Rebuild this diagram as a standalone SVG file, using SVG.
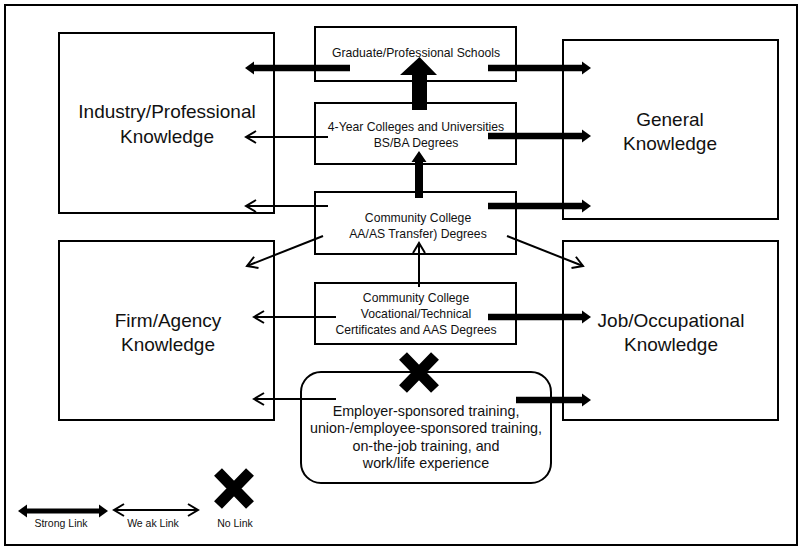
<svg xmlns="http://www.w3.org/2000/svg" width="801" height="550" viewBox="0 0 801 550">
<style>
.box{fill:#fff;stroke:#000;stroke-width:2}
.big{font-family:"Liberation Sans",Arial,sans-serif;font-size:19px;fill:#111;text-anchor:middle}
.mid{font-family:"Liberation Sans",Arial,sans-serif;font-size:12.2px;fill:#111;text-anchor:middle}
.emp{font-family:"Liberation Sans",Arial,sans-serif;font-size:14.3px;fill:#111;text-anchor:middle}
.leg{font-family:"Liberation Sans",Arial,sans-serif;font-size:10.5px;fill:#111;text-anchor:middle}
.strong{stroke:#000;stroke-width:6.5;fill:none;marker-end:url(#sh)}
.weak{stroke:#000;stroke-width:2;fill:none;marker-end:url(#wh)}
.x{stroke:#000;stroke-width:11;fill:none}
</style>
<defs>
<marker id="sh" markerUnits="userSpaceOnUse" markerWidth="1" markerHeight="1" refX="0" refY="0" orient="auto-start-reverse" overflow="visible">
<path d="M0,-6.5 L9,0 L0,6.5 Z" fill="#000"/>
</marker>
<marker id="wh" markerUnits="userSpaceOnUse" markerWidth="1" markerHeight="1" refX="0" refY="0" orient="auto-start-reverse" overflow="visible">
<path d="M-10,-6 L0,0 L-10,6" fill="none" stroke="#000" stroke-width="2"/>
</marker>
</defs>
<rect width="801" height="550" fill="#fff"/>
<rect x="5" y="5" width="792" height="540" fill="none" stroke="#000" stroke-width="2"/>

<g id="industry">
<rect class="box" x="59" y="33" width="215" height="180"/>
<text class="big" x="167" y="118">Industry/Professional</text>
<text class="big" x="167" y="143">Knowledge</text>
</g>
<g id="firm">
<rect class="box" x="59" y="241" width="215" height="179"/>
<text class="big" x="168" y="327">Firm/Agency</text>
<text class="big" x="168" y="351">Knowledge</text>
</g>
<g id="general">
<rect class="box" x="563" y="40" width="215" height="179"/>
<text class="big" x="670" y="126">General</text>
<text class="big" x="670" y="150">Knowledge</text>
</g>
<g id="job">
<rect class="box" x="563" y="241" width="215" height="179"/>
<text class="big" x="671" y="327">Job/Occupational</text>
<text class="big" x="671" y="351">Knowledge</text>
</g>
<g id="graduate">
<rect class="box" x="315" y="27" width="201" height="54"/>
<text class="mid" x="416" y="57">Graduate/Professional Schools</text>
</g>
<g id="fouryear">
<rect class="box" x="315" y="103" width="201" height="61"/>
<text class="mid" x="416" y="131">4-Year Colleges and Universities</text>
<text class="mid" x="416" y="147">BS/BA Degrees</text>
</g>
<g id="cctransfer">
<rect class="box" x="315" y="192" width="201" height="62"/>
<text class="mid" x="418" y="222">Community College</text>
<text class="mid" x="418" y="238">AA/AS Transfer) Degrees</text>
</g>
<g id="ccvoc">
<rect class="box" x="315" y="283" width="201" height="61"/>
<text class="mid" x="416" y="302">Community College</text>
<text class="mid" x="416" y="318">Vocational/Technical</text>
<text class="mid" x="416" y="334">Certificates and AAS Degrees</text>
</g>
<g id="employer">
<rect class="box" x="301" y="372" width="250" height="111" rx="20" ry="20"/>
<text class="emp" x="426" y="416">Employer-sponsored training,</text>
<text class="emp" x="426" y="433">union-/employee-sponsored training,</text>
<text class="emp" x="426" y="451">on-the-job training, and</text>
<text class="emp" x="426" y="468">work/life experience</text>
</g>

<g id="connectors">
<line class="strong" x1="350" y1="68" x2="254" y2="68"/>
<line class="strong" x1="488" y1="68" x2="582" y2="68"/>
<polygon points="412,110 427,110 427,75 437,75 419.5,57 400,75 412,75" fill="#000"/>
<line class="weak" x1="328" y1="137" x2="246" y2="137"/>
<line class="strong" x1="488" y1="136" x2="582" y2="136"/>
<polygon points="415,198 423,198 423,162 426.5,162 419,151 411.5,162 415,162" fill="#000"/>
<line class="weak" x1="328" y1="206" x2="246" y2="206"/>
<line class="strong" x1="488" y1="206" x2="582" y2="206"/>
<line class="weak" x1="323" y1="236" x2="247" y2="266"/>
<line class="weak" x1="507" y1="236" x2="583" y2="266"/>
<line class="weak" x1="419" y1="287" x2="419" y2="243"/>
<line class="weak" x1="336" y1="317" x2="254" y2="317"/>
<line class="strong" x1="488" y1="317" x2="582" y2="317"/>
<line class="weak" x1="336" y1="399" x2="254" y2="399"/>
<line class="strong" x1="516" y1="400" x2="582" y2="400"/>
<path class="x" d="M403,356 L435,389 M435,356 L403,389"/>
</g>

<g id="legend">
<line x1="27" y1="511" x2="99" y2="511" stroke="#000" stroke-width="5" marker-start="url(#sh)" marker-end="url(#sh)"/>
<text class="leg" x="61" y="527">Strong Link</text>
<line x1="114" y1="510" x2="198" y2="510" stroke="#000" stroke-width="2" marker-start="url(#wh)" marker-end="url(#wh)"/>
<text class="leg" x="153" y="527">We ak Link</text>
<path class="x" d="M218,472 L250,505 M250,472 L218,505"/>
<text class="leg" x="235" y="527">No Link</text>
</g>
</svg>
